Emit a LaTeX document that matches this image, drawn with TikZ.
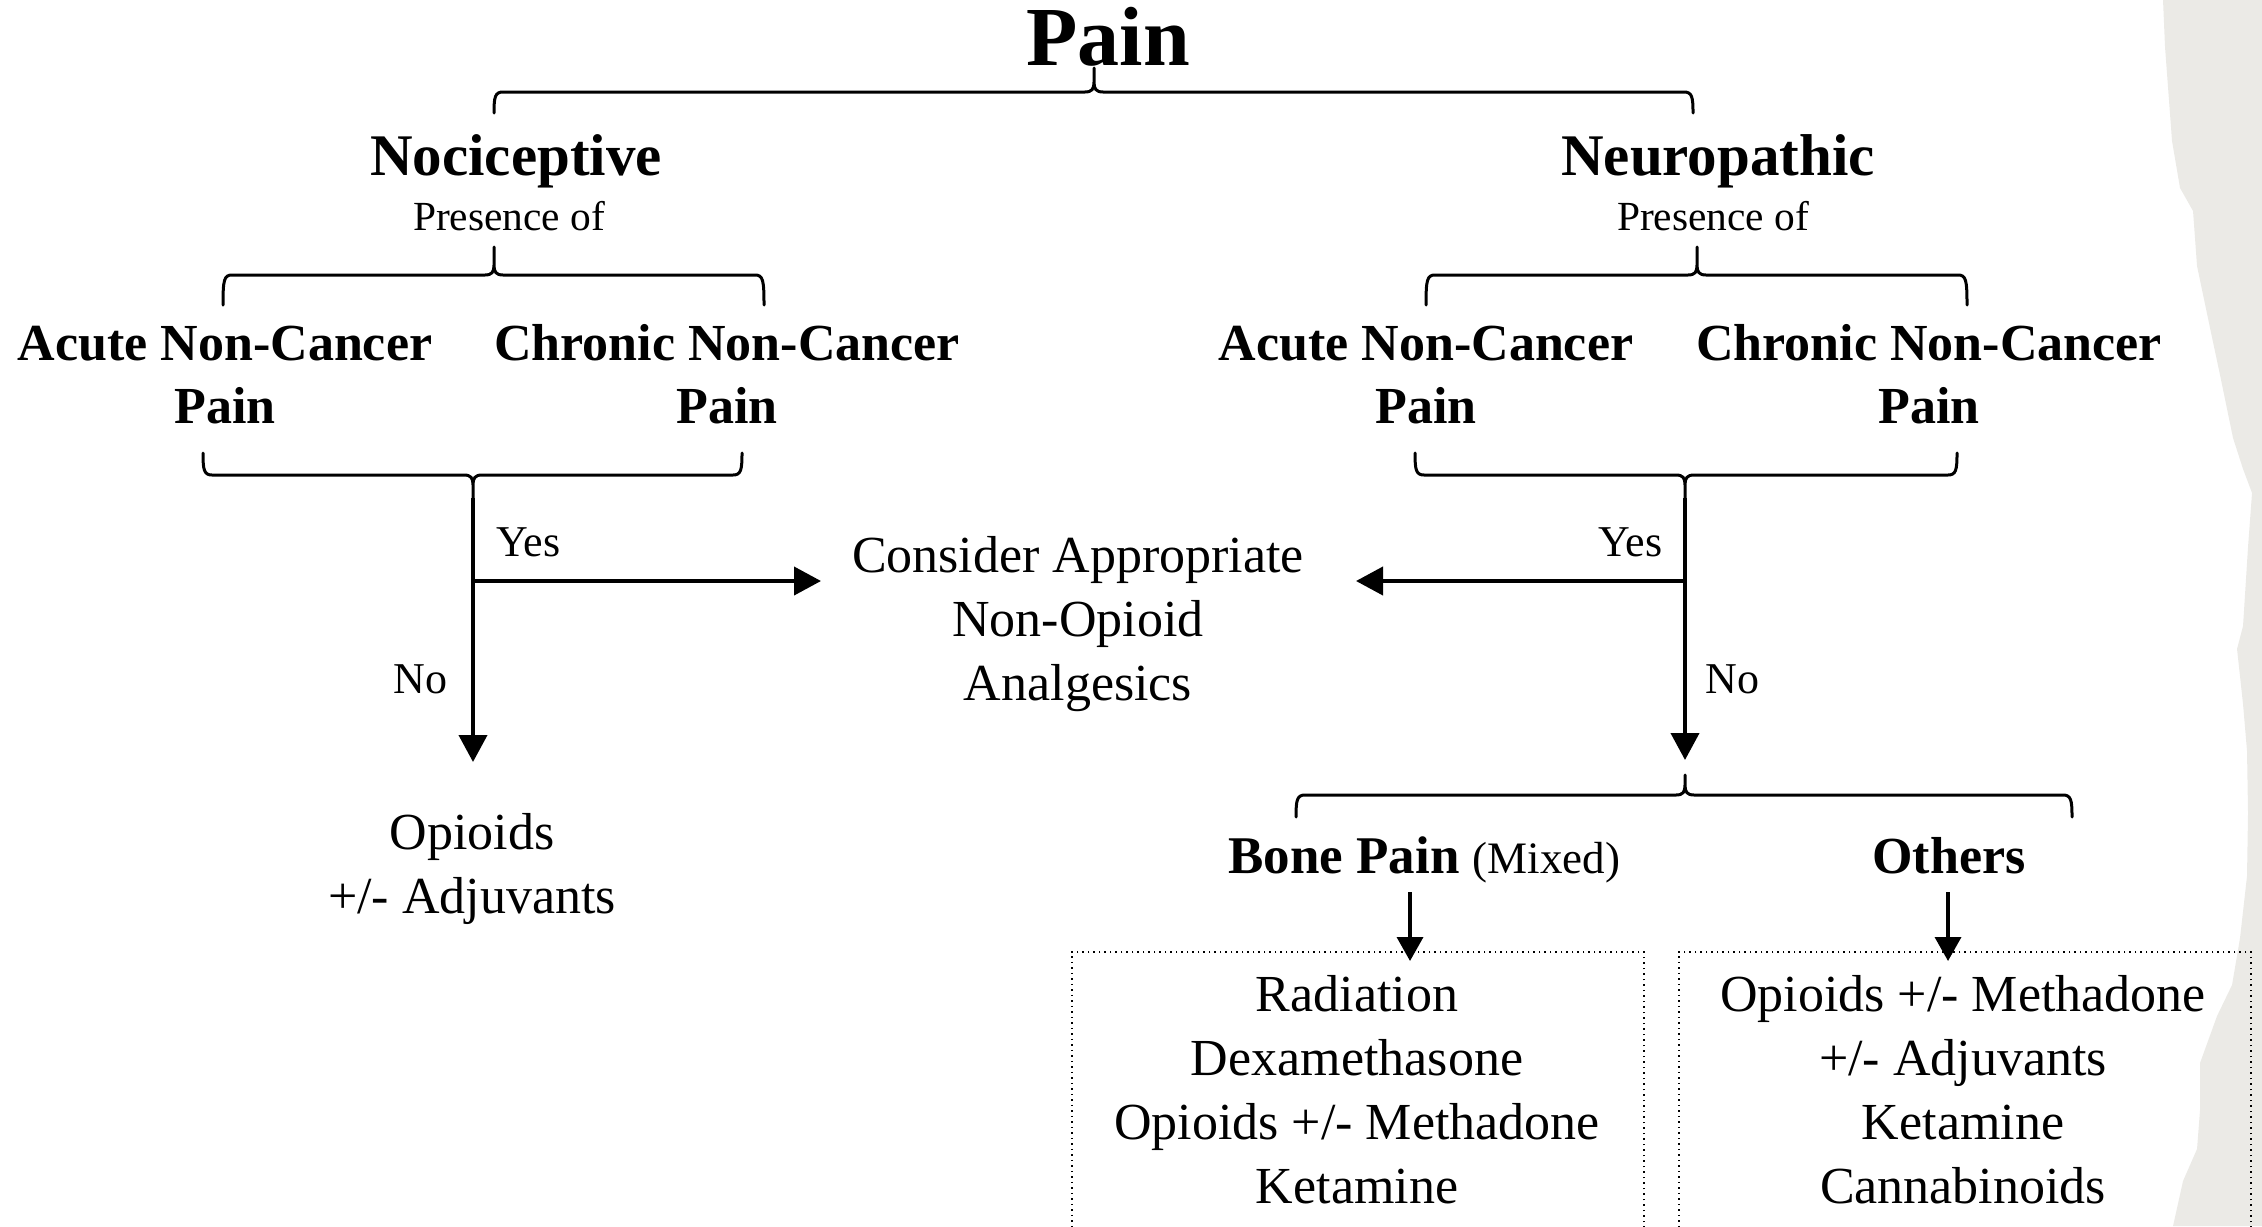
\documentclass[tikz,border=0pt]{standalone}
\usepackage{fontspec}
\setmainfont{Liberation Serif}
\usetikzlibrary{arrows.meta}
\definecolor{paper}{RGB}{235,234,230}
\tikzset{
 brc/.style={line width=1.5pt, line join=round, line cap=round},
 arr/.style={line width=2pt, -{Triangle[length=13.5pt,width=14pt]}},
 sarr/.style={line width=1.8pt, -{Triangle[length=12pt,width=13pt]}},
 titletxt/.style={inner sep=0pt, font=\bfseries\fontsize{42}{48}\selectfont},
 headtxt/.style={inner sep=0pt, font=\bfseries\fontsize{29.5}{34}\selectfont},
 subtxt/.style={inner sep=0pt, align=center, font=\bfseries\fontsize{26}{31.5}\selectfont},
 bodytxt/.style={inner sep=0pt, align=center, font=\fontsize{26}{32}\selectfont},
 smalltxt/.style={inner sep=0pt, font=\fontsize{20.7}{24}\selectfont},
 yntxt/.style={inner sep=0pt, font=\fontsize{22}{26}\selectfont},
 dotbox/.style={draw, dotted, line width=0.75pt, inner sep=0pt},
}
% x1, x2, xc, ybar, sign (+1: ends down / tip up, -1: ends up / tip down), end length, tip y
\newcommand{\mybrace}[7]{%
 \draw[brc] ({#1},{#4+#6*(#5)}) .. controls ({#1},{#4+5*(#5)}) and ({#1+1},{#4}) .. ({#1+9},{#4})
  -- ({#3-9},{#4}) .. controls ({#3-2},{#4}) and ({#3},{#4-3*(#5)}) .. ({#3},{#4-10*(#5)})
  -- ({#3},{#7}) -- ({#3},{#4-10*(#5)})
  .. controls ({#3},{#4-3*(#5)}) and ({#3+2},{#4}) .. ({#3+9},{#4})
  -- ({#2-9},{#4}) .. controls ({#2-1},{#4}) and ({#2},{#4+5*(#5)}) .. ({#2},{#4+#6*(#5)});
}
\begin{document}
\begin{tikzpicture}[x=0.5pt,y=-0.5pt]
\useasboundingbox (0,0) rectangle (2262,1226);
\clip (0,0) rectangle (2262,1226);
% torn paper edge
\fill[paper] (2163,0) -- (2165,47) -- (2172,141) -- (2180,188) -- (2193,211) -- (2197,266)
 -- (2210,328) -- (2220,375) -- (2233,438) -- (2243,469) -- (2252,493) -- (2248,547)
 -- (2243,626) -- (2237,649) -- (2243,704) -- (2247,751) -- (2248,813) -- (2247,876)
 -- (2240,938) -- (2232,985) -- (2217,1016) -- (2200,1063) -- (2200,1110) -- (2197,1149)
 -- (2183,1181) -- (2173,1226) -- (2262,1226) -- (2262,0) -- cycle;

% texts (multi-line nodes: base anchor = baseline of last line)
\node[titletxt, anchor=base] (pain) at (1108,65) {Pain};
\node[headtxt, anchor=base] (noci) at (516,175) {Nociceptive};
\node[smalltxt, anchor=base] (presL) at (509,230) {Presence of};
\node[headtxt, anchor=base] (neuro) at (1718,175) {Neuropathic};
\node[smalltxt, anchor=base] (presR) at (1713,230) {Presence of};
\node[subtxt, anchor=base] (acuteL) at (225,423) {Acute Non-Cancer\\Pain};
\node[subtxt, anchor=base] (chronL) at (727,423) {Chronic Non-Cancer\\Pain};
\node[subtxt, anchor=base] (acuteR) at (1426,423) {Acute Non-Cancer\\Pain};
\node[subtxt, anchor=base] (chronR) at (1929,423) {Chronic Non-Cancer\\Pain};
\node[bodytxt, anchor=base] (cons) at (1078,700) {Consider Appropriate\\Non-Opioid\\Analgesics};
\node[bodytxt, anchor=base] (opL) at (472,913) {Opioids\\+/- Adjuvants};
\node[yntxt, anchor=base west] (yesL) at (496,556) {Yes};
\node[yntxt, anchor=base east] (noL) at (448,693) {No};
\node[yntxt, anchor=base east] (yesR) at (1663,556) {Yes};
\node[yntxt, anchor=base west] (noR) at (1705,693) {No};
\node[inner sep=0pt, anchor=base west] (bone) at (1228,873)
 {\bfseries\fontsize{26.5}{30}\selectfont Bone Pain \mdseries\fontsize{22.5}{26}\selectfont(Mixed)};
\node[inner sep=0pt, anchor=base, font=\bfseries\fontsize{26}{30}\selectfont] (others) at (1949,873) {Others};

% boxes
\node[dotbox, minimum width=286pt, minimum height=160pt, anchor=north west] (boneBox) at (1071,951) {};
\node[dotbox, minimum width=286pt, minimum height=160pt, anchor=north west] (othBox) at (1678,951) {};
\node[bodytxt, anchor=base] (boneRx) at (1357,1203) {Radiation\\Dexamethasone\\Opioids +/- Methadone\\Ketamine};
\node[bodytxt, anchor=base] (othRx) at (1963,1203) {Opioids +/- Methadone\\+/- Adjuvants\\Ketamine\\Cannabinoids};

% braces
\mybrace{494}{1693}{1094}{92}{1}{21}{68}
\mybrace{223}{764}{494}{275}{1}{30}{247}
\mybrace{1426}{1967}{1697}{275}{1}{30}{247}
\mybrace{203}{742}{473}{475}{-1}{22}{498}
\mybrace{1415}{1957}{1685}{475}{-1}{22}{498}
\mybrace{1296}{2072}{1685}{795}{1}{22}{775}

% connectors
\coordinate (Ltop) at (473,498);
\coordinate (Ljunc) at (473,581);
\coordinate (Lend) at (473,762);
\coordinate (Lyes) at (821,581);
\coordinate (Rtop) at (1685,498);
\coordinate (Rjunc) at (1685,581);
\coordinate (Rend) at (1685,760);
\coordinate (Ryes) at (1356,581);
\draw[arr] (Ltop) -- (Lend);
\draw[arr] (Ljunc) -- (Lyes);
\draw[arr] (Rtop) -- (Rend);
\draw[arr] (Rjunc) -- (Ryes);
\coordinate (boneA) at (1410,892);
\coordinate (boneB) at (1410,961);
\coordinate (othA) at (1948,892);
\coordinate (othB) at (1948,961);
\draw[sarr] (boneA) -- (boneB);
\draw[sarr] (othA) -- (othB);
\end{tikzpicture}
\end{document}
